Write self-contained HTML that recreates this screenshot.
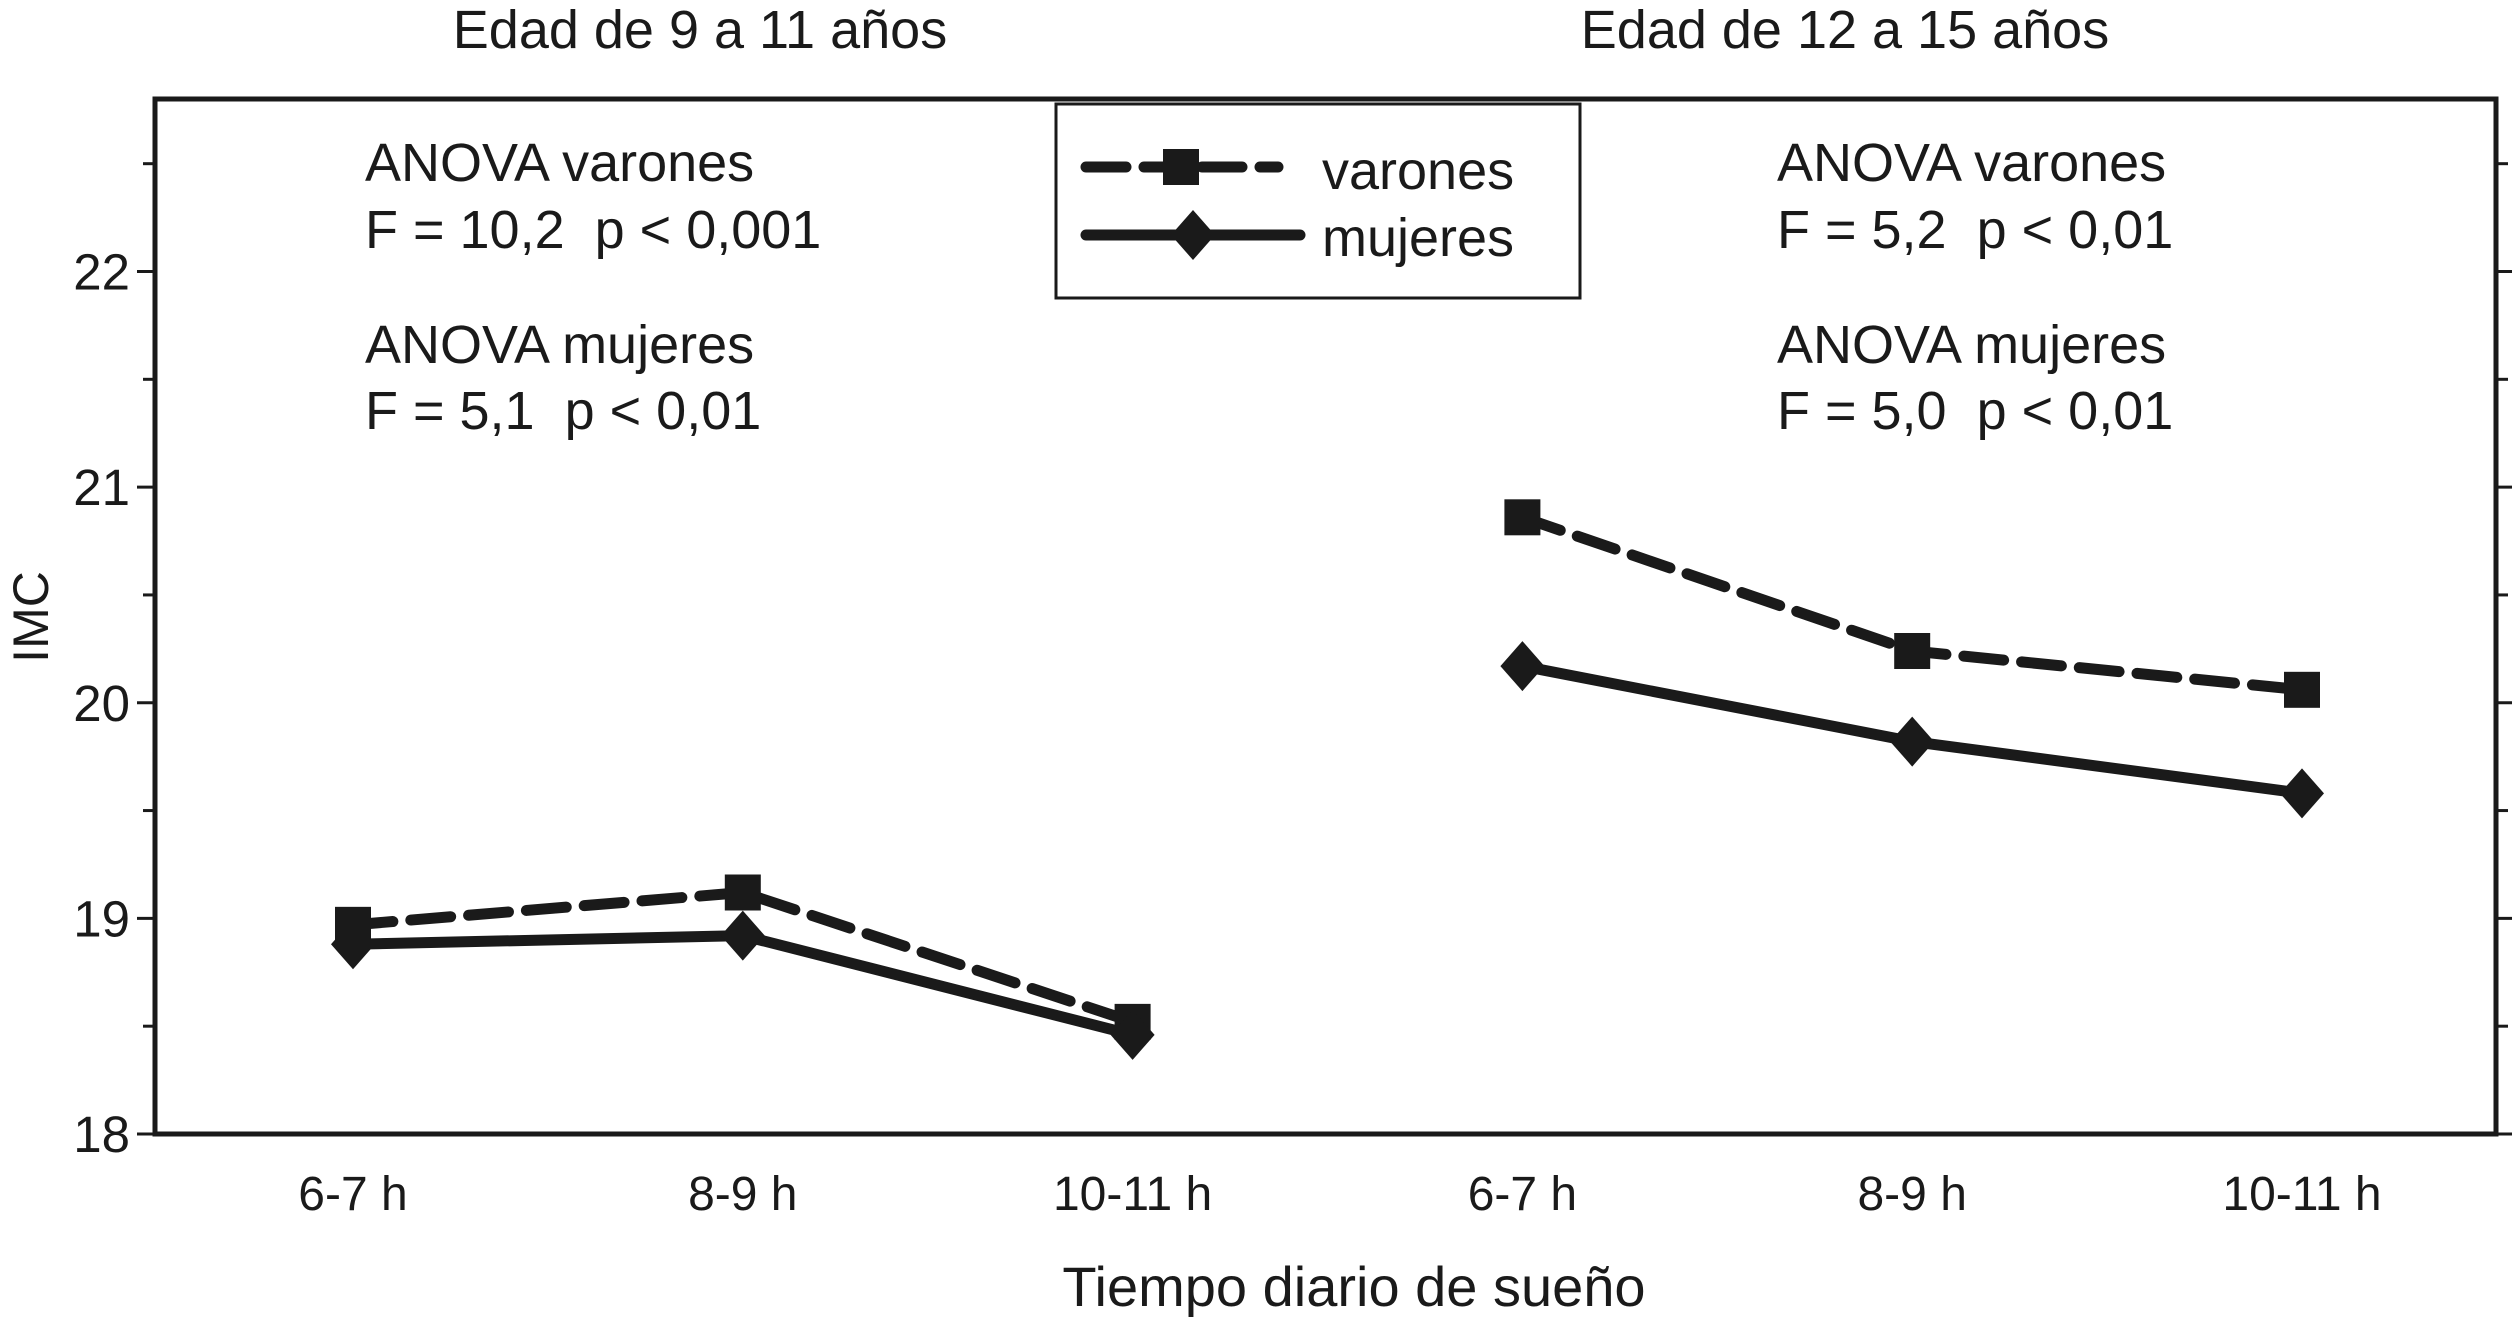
<!DOCTYPE html>
<html><head><meta charset="utf-8"><style>
html,body{margin:0;padding:0;background:#fff;}
svg{display:block;font-family:"Liberation Sans",Arial,sans-serif;fill:#1a1a1a;}
</style></head><body>
<svg id="chart" width="2512" height="1317" viewBox="0 0 2512 1317">
<g id="axes"></g>
<g id="series"></g>
<text x="700" y="48" text-anchor="middle" font-size="54">Edad de 9 a 11 años</text>
<text x="1845" y="48" text-anchor="middle" font-size="54">Edad de 12 a 15 años</text>
<g font-size="54">
<text x="365" y="181">ANOVA varones</text>
<text x="365" y="248" xml:space="preserve">F = 10,2  p &lt; 0,001</text>
<text x="365" y="363">ANOVA mujeres</text>
<text x="365" y="429" xml:space="preserve">F = 5,1  p &lt; 0,01</text>
</g>
<g font-size="54">
<text x="1777" y="181">ANOVA varones</text>
<text x="1777" y="248" xml:space="preserve">F = 5,2  p &lt; 0,01</text>
<text x="1777" y="363">ANOVA mujeres</text>
<text x="1777" y="429" xml:space="preserve">F = 5,0  p &lt; 0,01</text>
</g>
<g>
<rect x="1056" y="104" width="524" height="194" fill="#fff" stroke="#1a1a1a" stroke-width="3"/>
<line x1="1086" y1="167" x2="1278" y2="167" stroke="#1a1a1a" stroke-width="11" stroke-dasharray="40 18" stroke-linecap="round"/>
<rect x="1163" y="149" width="36" height="36"/>
<text x="1322" y="189" font-size="54">varones</text>
<line x1="1086" y1="235" x2="1300" y2="235" stroke="#1a1a1a" stroke-width="11" stroke-linecap="round"/>
<polygon points="1193,210 1215,235 1193,260 1171,235"/>
<text x="1322" y="256" font-size="54">mujeres</text>
</g>
<text x="1354" y="1306" text-anchor="middle" font-size="56">Tiempo diario de sueño</text>
<text transform="translate(48,617) rotate(-90)" text-anchor="middle" font-size="50">IMC</text>
</svg>
<script>
const categories = ["6-7 h","8-9 h","10-11 h","6-7 h","8-9 h","10-11 h"];
const varonesLeft = [18.97, 19.12, 18.52];
const mujeresLeft = [18.88, 18.92, 18.46];
const varonesRight = [20.86, 20.24, 20.06];
const mujeresRight = [20.17, 19.82, 19.58];
const yTicks = [18, 19, 20, 21, 22];

const NS = "http://www.w3.org/2000/svg";
const L = 155, R = 2496, T = 99, B = 1134;
const yMin = 18, yMax = 22.8;
function y(v){ return B - (v - yMin) / (yMax - yMin) * (B - T); }
function x(i){ return 353 + i * 389.8; }
function mk(tag, attrs, parent){
  const e = document.createElementNS(NS, tag);
  for (const k in attrs) e.setAttribute(k, attrs[k]);
  parent.appendChild(e); return e;
}
const axes = document.getElementById('axes');
const series = document.getElementById('series');
const frame = mk('rect', {x:L, y:T, width:R-L, height:B-T, fill:'none', stroke:'#1a1a1a', 'stroke-width':5}, axes);


for (let v = 18; v <= 22.5; v += 0.5) {
  const major = Math.abs(v - Math.round(v)) < 1e-6;
  const len = major ? 18 : 12;
  const t1 = mk('line', {x1:L-len, y1:y(v), x2:L, y2:y(v), stroke:'#1a1a1a', 'stroke-width':3}, axes);
  
  
  const t2 = mk('line', {x1:R, y1:y(v), x2:R+len, y2:y(v), stroke:'#1a1a1a', 'stroke-width':3}, axes);
  
  
}
yTicks.forEach(v => {
  const t = mk('text', {x:130, y:y(v)+18, 'text-anchor':'end', 'font-size':51}, axes);
  t.textContent = v;
  
  
});
categories.forEach((c, i) => {
  const t = mk('text', {x:x(i), y:1210, 'text-anchor':'middle', 'font-size':48}, axes);
  t.textContent = c;
  
  
});
function drawSeries(vals, offset, dashed, name){
  const pts = vals.map((v, i) => [x(i + offset), y(v)]);
  const attrs = {points: pts.map(p => p.join(',')).join(' '), fill:'none', stroke:'#1a1a1a', 'stroke-width':11, 'stroke-linejoin':'round'};
  if (dashed) { attrs['stroke-dasharray'] = '40 18'; attrs['stroke-linecap'] = 'round'; }
  const pl = mk('polyline', attrs, series);
  
  
  pts.forEach(p => {
    let m;
    if (dashed) m = mk('rect', {x:p[0]-18, y:p[1]-18, width:36, height:36, fill:'#1a1a1a'}, series);
    else m = mk('polygon', {points:`${p[0]},${p[1]-25} ${p[0]+22},${p[1]} ${p[0]},${p[1]+25} ${p[0]-22},${p[1]}`, fill:'#1a1a1a'}, series);
    
    
  });
}
drawSeries(varonesLeft, 0, true, 'varones-9-11');
drawSeries(mujeresLeft, 0, false, 'mujeres-9-11');
drawSeries(varonesRight, 3, true, 'varones-12-15');
drawSeries(mujeresRight, 3, false, 'mujeres-12-15');
</script>
</body></html>
